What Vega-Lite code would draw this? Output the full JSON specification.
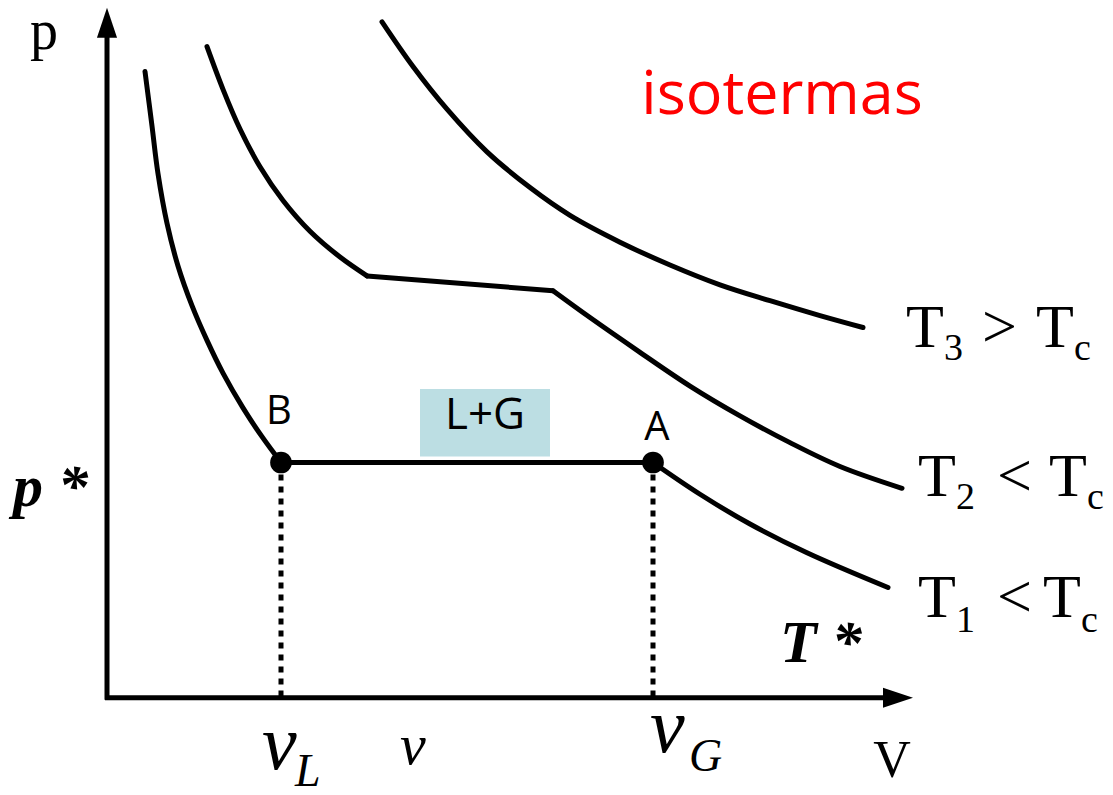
{
  "$schema": "https://vega.github.io/schema/vega-lite/v6.json",
  "width": 1113,
  "height": 795,
  "padding": 0,
  "autosize": {"type": "fit", "contains": "padding"},
  "background": "white",
  "config": {"view": {"stroke": null}},
  "datasets": {
    "curves": [
      {"seg": "T1a", "v": 145, "p": 723}, {"seg": "T1a", "v": 152, "p": 668}, {"seg": "T1a", "v": 158, "p": 620},
      {"seg": "T1a", "v": 167, "p": 570}, {"seg": "T1a", "v": 178, "p": 527}, {"seg": "T1a", "v": 192, "p": 487},
      {"seg": "T1a", "v": 207, "p": 452}, {"seg": "T1a", "v": 223, "p": 419}, {"seg": "T1a", "v": 243, "p": 384},
      {"seg": "T1a", "v": 262, "p": 355}, {"seg": "T1a", "v": 281, "p": 329},
      {"seg": "T1b", "v": 281, "p": 329}, {"seg": "T1b", "v": 653, "p": 329},
      {"seg": "T1c", "v": 653, "p": 329}, {"seg": "T1c", "v": 700, "p": 297}, {"seg": "T1c", "v": 750, "p": 267},
      {"seg": "T1c", "v": 807, "p": 238}, {"seg": "T1c", "v": 888, "p": 203},
      {"seg": "T2a", "v": 207, "p": 748}, {"seg": "T2a", "v": 223, "p": 705}, {"seg": "T2a", "v": 240, "p": 665},
      {"seg": "T2a", "v": 260, "p": 627}, {"seg": "T2a", "v": 283, "p": 593}, {"seg": "T2a", "v": 310, "p": 562},
      {"seg": "T2a", "v": 340, "p": 536}, {"seg": "T2a", "v": 367, "p": 517},
      {"seg": "T2b", "v": 367, "p": 517}, {"seg": "T2b", "v": 553, "p": 502},
      {"seg": "T2c", "v": 553, "p": 502}, {"seg": "T2c", "v": 590, "p": 475}, {"seg": "T2c", "v": 640, "p": 440},
      {"seg": "T2c", "v": 690, "p": 406}, {"seg": "T2c", "v": 740, "p": 376}, {"seg": "T2c", "v": 790, "p": 349},
      {"seg": "T2c", "v": 840, "p": 325}, {"seg": "T2c", "v": 902, "p": 303},
      {"seg": "T3", "v": 382, "p": 773}, {"seg": "T3", "v": 413, "p": 728}, {"seg": "T3", "v": 447, "p": 685},
      {"seg": "T3", "v": 487, "p": 642}, {"seg": "T3", "v": 530, "p": 606}, {"seg": "T3", "v": 570, "p": 578},
      {"seg": "T3", "v": 620, "p": 551}, {"seg": "T3", "v": 670, "p": 528}, {"seg": "T3", "v": 720, "p": 508},
      {"seg": "T3", "v": 770, "p": 492}, {"seg": "T3", "v": 820, "p": 477}, {"seg": "T3", "v": 863, "p": 465}
    ],
    "axes": [
      {"name": "p", "v": 107, "p": 90, "v2": 107, "p2": 760},
      {"name": "v", "v": 105, "p": 92, "v2": 890, "p2": 92}
    ],
    "guides": [
      {"name": "vL", "v": 281, "p": 329, "v2": 281, "p2": 92},
      {"name": "vG", "v": 653, "p": 329, "v2": 653, "p2": 92}
    ],
    "states": [
      {"name": "B", "v": 281, "p": 329},
      {"name": "A", "v": 653, "p": 329}
    ],
    "region": [{"name": "L+G", "v": 420, "v2": 550, "p": 403, "p2": 335}]
  },
  "encoding": {
    "x": {"field": "v", "type": "quantitative", "scale": {"domain": [0, 1113], "nice": false, "zero": false}, "axis": null},
    "y": {"field": "p", "type": "quantitative", "scale": {"domain": [0, 795], "nice": false, "zero": false}, "axis": null}
  },
  "layer": [
    {
      "data": {"name": "region"},
      "mark": {"type": "rect", "fill": "#bcdee3"},
      "encoding": {
        "x2": {"field": "v2"},
        "y2": {"field": "p2"}
      }
    },
    {
      "data": {"name": "axes"},
      "mark": {"type": "rule", "stroke": "black", "strokeWidth": 5},
      "encoding": {"x2": {"field": "v2"}, "y2": {"field": "p2"}}
    },
    {
      "data": {"name": "guides"},
      "mark": {"type": "rule", "stroke": "black", "strokeWidth": 5, "strokeDash": [6, 6]},
      "encoding": {"x2": {"field": "v2"}, "y2": {"field": "p2"}}
    },
    {
      "data": {"name": "curves"},
      "mark": {"type": "line", "stroke": "black", "strokeWidth": 5, "interpolate": "catmull-rom", "strokeCap": "round", "strokeJoin": "round"},
      "encoding": {"detail": {"field": "seg"}, "order": {"field": "v", "type": "quantitative"}}
    },
    {
      "data": {"values": [{"v": 107, "p": 772}]},
      "mark": {"type": "point", "shape": "M0,-1L0.67,1L-0.67,1Z", "filled": true, "fill": "black", "opacity": 1, "size": 900, "strokeWidth": 0}
    },
    {
      "data": {"values": [{"v": 898, "p": 92}]},
      "mark": {"type": "point", "shape": "M1,0L-1,-0.67L-1,0.67Z", "filled": true, "fill": "black", "opacity": 1, "size": 900, "strokeWidth": 0}
    },
    {
      "data": {"name": "states"},
      "mark": {"type": "point", "shape": "circle", "filled": true, "fill": "black", "opacity": 1, "size": 470, "strokeWidth": 0}
    },
    {
      "data": {"values": [
        {"t": "T", "v": 906, "p": 445}, {"t": ">", "v": 982, "p": 445}, {"t": "T", "v": 1036, "p": 445},
        {"t": "T", "v": 918, "p": 295}, {"t": "<", "v": 997, "p": 295}, {"t": "T", "v": 1049, "p": 295},
        {"t": "T", "v": 918, "p": 173}, {"t": "<", "v": 997, "p": 173}, {"t": "T", "v": 1043, "p": 173}
      ]},
      "mark": {"type": "text", "font": "Liberation Serif", "fontSize": 62, "align": "left", "baseline": "alphabetic", "fill": "black"},
      "encoding": {"text": {"field": "t"}}
    },
    {
      "data": {"values": [
        {"t": "3", "v": 944, "p": 432}, {"t": "c", "v": 1074, "p": 432},
        {"t": "2", "v": 956, "p": 282}, {"t": "c", "v": 1087, "p": 282},
        {"t": "1", "v": 956, "p": 158}, {"t": "c", "v": 1081, "p": 158}
      ]},
      "mark": {"type": "text", "font": "Liberation Serif", "fontSize": 38, "align": "left", "baseline": "alphabetic", "fill": "black"},
      "encoding": {"text": {"field": "t"}}
    },
    {
      "data": {"values": [{"t": "p", "v": 44, "p": 746}]},
      "mark": {"type": "text", "font": "Liberation Serif", "fontSize": 56, "align": "center", "baseline": "alphabetic", "fill": "black"},
      "encoding": {"text": {"field": "t"}}
    },
    {
      "data": {"values": [{"t": "V", "v": 892, "p": 12}]},
      "mark": {"type": "text", "font": "Liberation Serif", "fontSize": 52, "align": "center", "baseline": "alphabetic", "fill": "black"},
      "encoding": {"text": {"field": "t"}}
    },
    {
      "data": {"values": [{"t": "p *", "v": 13, "p": 285}, {"t": "T *", "v": 780, "p": 128}]},
      "mark": {"type": "text", "font": "Liberation Serif", "fontSize": 60, "fontStyle": "italic", "fontWeight": "bold", "align": "left", "baseline": "alphabetic", "fill": "black"},
      "encoding": {"text": {"field": "t"}}
    },
    {
      "data": {"values": [{"t": "v", "v": 262, "p": 20}, {"t": "v", "v": 650, "p": 37}]},
      "mark": {"type": "text", "font": "Liberation Serif", "fontSize": 78, "fontStyle": "italic", "align": "left", "baseline": "alphabetic", "fill": "black"},
      "encoding": {"text": {"field": "t"}}
    },
    {
      "data": {"values": [{"t": "v", "v": 400, "p": 25}]},
      "mark": {"type": "text", "font": "Liberation Serif", "fontSize": 58, "fontStyle": "italic", "align": "left", "baseline": "alphabetic", "fill": "black"},
      "encoding": {"text": {"field": "t"}}
    },
    {
      "data": {"values": [{"t": "L", "v": 295, "p": 3}, {"t": "G", "v": 689, "p": 18}]},
      "mark": {"type": "text", "font": "Liberation Serif", "fontSize": 46, "fontStyle": "italic", "align": "left", "baseline": "alphabetic", "fill": "black"},
      "encoding": {"text": {"field": "t"}}
    },
    {
      "data": {"values": [{"t": "B", "v": 279, "p": 368}, {"t": "A", "v": 657, "p": 352}]},
      "mark": {"type": "text", "font": "Open Sans", "fontSize": 40, "align": "center", "baseline": "alphabetic", "fill": "black"},
      "encoding": {"text": {"field": "t"}}
    },
    {
      "data": {"values": [{"t": "L+G", "v": 485, "p": 363}]},
      "mark": {"type": "text", "font": "Open Sans", "fontSize": 44, "align": "center", "baseline": "alphabetic", "fill": "black"},
      "encoding": {"text": {"field": "t"}}
    },
    {
      "data": {"values": [{"t": "isotermas", "v": 782, "p": 680}]},
      "mark": {"type": "text", "font": "Open Sans", "fontSize": 61, "fontWeight": 500, "align": "center", "baseline": "alphabetic", "fill": "#ff0000"},
      "encoding": {"text": {"field": "t"}}
    }
  ]
}
